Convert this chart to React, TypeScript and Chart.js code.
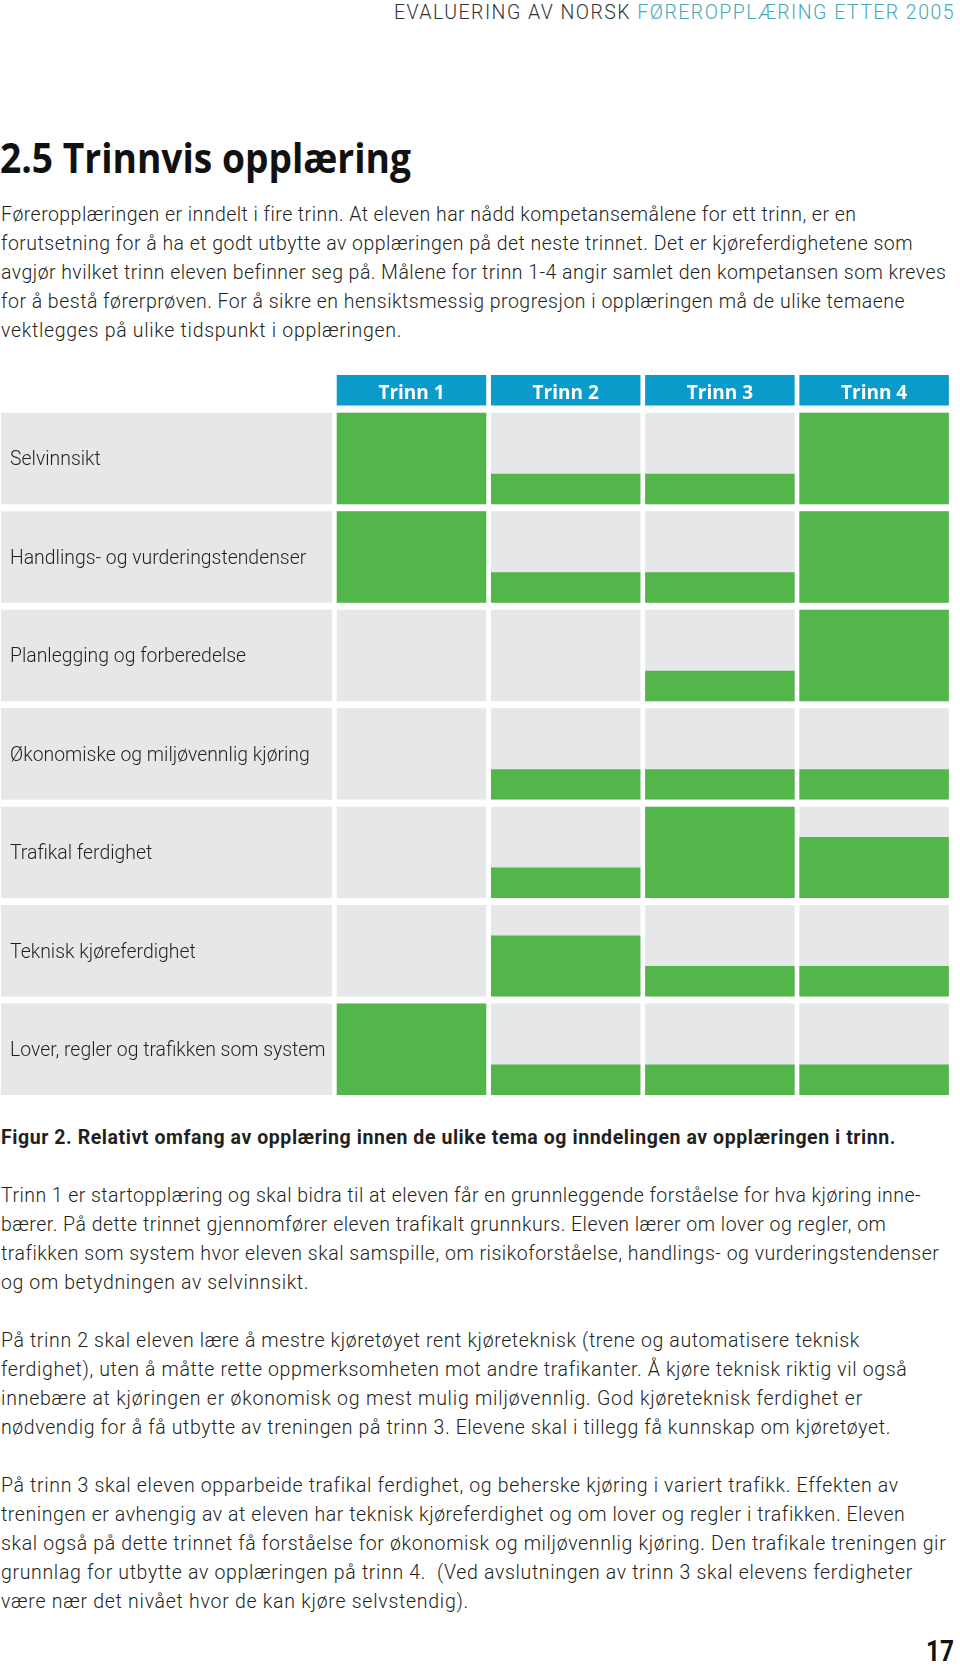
import React, { useEffect, useLayoutEffect, useRef } from 'react';
import { Chart, registerables } from 'chart.js';

Chart.register(...registerables);

// ---------- chart data ----------
const categories = [
  'Selvinnsikt',
  'Handlings- og vurderingstendenser',
  'Planlegging og forberedelse',
  'Økonomiske og miljøvennlig kjøring',
  'Trafikal ferdighet',
  'Teknisk kjøreferdighet',
  'Lover, regler og trafikken som system',
];
const trinnLabels = ['Trinn 1', 'Trinn 2', 'Trinn 3', 'Trinn 4'];
// relative extent of training per theme, in thirds of a full cell
const trinn1 = [3, 3, 0, 0, 0, 0, 3];
const trinn2 = [1, 1, 0, 1, 1, 2, 1];
const trinn3 = [1, 1, 1, 1, 3, 1, 1];
const trinn4 = [3, 3, 3, 1, 2, 1, 1];
const fullCell = 3;

// ---------- page text ----------
const headerDark = 'EVALUERING AV NORSK ';
const headerTeal = 'FØREROPPLÆRING ETTER 2005';
const titleText = '2.5 Trinnvis opplæring';
const para1 = [
  'Føreropplæringen er inndelt i fire trinn. At eleven har nådd kompetansemålene for ett trinn, er en',
  'forutsetning for å ha et godt utbytte av opplæringen på det neste trinnet. Det er kjøreferdighetene som',
  'avgjør hvilket trinn eleven befinner seg på. Målene for trinn 1-4 angir samlet den kompetansen som kreves',
  'for å bestå førerprøven. For å sikre en hensiktsmessig progresjon i opplæringen må de ulike temaene',
  'vektlegges på ulike tidspunkt i opplæringen.',
];
const captionText = 'Figur 2. Relativt omfang av opplæring innen de ulike tema og inndelingen av opplæringen i trinn.';
const para2 = [
  'Trinn 1 er startopplæring og skal bidra til at eleven får en grunnleggende forståelse for hva kjøring inne-',
  'bærer. På dette trinnet gjennomfører eleven trafikalt grunnkurs. Eleven lærer om lover og regler, om',
  'trafikken som system hvor eleven skal samspille, om risikoforståelse, handlings- og vurderingstendenser',
  'og om betydningen av selvinnsikt.',
];
const para3 = [
  'På trinn 2 skal eleven lære å mestre kjøretøyet rent kjøreteknisk (trene og automatisere teknisk',
  'ferdighet), uten å måtte rette oppmerksomheten mot andre trafikanter. Å kjøre teknisk riktig vil også',
  'innebære at kjøringen er økonomisk og mest mulig miljøvennlig. God kjøreteknisk ferdighet er',
  'nødvendig for å få utbytte av treningen på trinn 3. Elevene skal i tillegg få kunnskap om kjøretøyet.',
];
const para4 = [
  'På trinn 3 skal eleven opparbeide trafikal ferdighet, og beherske kjøring i variert trafikk. Effekten av',
  'treningen er avhengig av at eleven har teknisk kjøreferdighet og om lover og regler i trafikken. Eleven',
  'skal også på dette trinnet få forståelse for økonomisk og miljøvennlig kjøring. Den trafikale treningen gir',
  'grunnlag for utbytte av opplæringen på trinn 4.  (Ved avslutningen av trinn 3 skal elevens ferdigheter',
  'være nær det nivået hvor de kan kjøre selvstendig).',
];
const pageNumber = '17';

// ---------- layout / style ----------
const W1 = [855, 912, 945, 904, 401];
const W2 = [920, 885, 938, 308];
const W3 = [859, 906, 862, 890];
const W4 = [897, 904, 945, 912, 468];

const GREEN = '#52b64a';
const GREY = '#e6e7e8';
const BLUE = '#0b9bca';
const TEXT = '#231f20';
const TEAL = '#45a9b7';
const BODY_FONT = 'Roboto, "Open Sans", sans-serif';
const BODY_SIZE = 19.5;
const LINE_H = 29.1;

const ROW_GAP = 0.23;
const HEADER_GAP = 0.24;
const HEADER_H = 1.0;
const BAR_RATIO = 0.9695;
const Y_AXIS_W = 324.4;
const LABEL_COL_LEFT = 1;

const nRows = categories.length;
const rowBase = (i: number) => (nRows - 1 - i) * (fullCell + ROW_GAP);
const headerBase = rowBase(0) + fullCell + HEADER_GAP;
const YMAX = headerBase + HEADER_H;

function FitLine({ width, len, style, mode = 'space', children }: { width: number; len: number; style?: React.CSSProperties; mode?: 'space' | 'scale'; children: React.ReactNode }) {
  const ref = useRef<HTMLDivElement>(null);
  useLayoutEffect(() => {
    const el = ref.current;
    if (!el) return;
    el.style.letterSpacing = '0px';
    el.style.transform = 'none';
    const w = el.getBoundingClientRect().width;
    if (mode === 'scale') {
      el.style.transformOrigin = 'left center';
      el.style.transform = `scaleX(${width / w})`;
    } else {
      el.style.letterSpacing = (width - w) / len + 'px';
    }
  }, [width, len, mode]);
  return (
    <div style={{ height: style?.lineHeight ?? LINE_H }}>
      <div ref={ref} style={{ display: 'inline-block', whiteSpace: 'pre', ...style }}>
        {children}
      </div>
    </div>
  );
}

function Para({ lines, widths, top, weight = 300 }: { lines: string[]; widths: number[]; top: number; weight?: number }) {
  return (
    <div style={{ position: 'absolute', left: 1, top, fontFamily: BODY_FONT, fontSize: BODY_SIZE, fontWeight: weight, color: TEXT }}>
      {lines.map((l, i) => (
        <FitLine key={i} width={widths[i]} len={l.length} style={{ lineHeight: LINE_H + 'px' }}>
          {l}
        </FitLine>
      ))}
    </div>
  );
}

function GridChart() {
  const canvasRef = useRef<HTMLCanvasElement>(null);
  useEffect(() => {
    const series = [trinn1, trinn2, trinn3, trinn4];
    const greenData: any[] = [];
    const greyData: any[] = [];
    categories.forEach((_, i) => {
      series.forEach((vals, j) => {
        greyData.push({ x: trinnLabels[j], y: [rowBase(i), rowBase(i) + fullCell] });
        if (vals[i] > 0) greenData.push({ x: trinnLabels[j], y: [rowBase(i), rowBase(i) + vals[i]] });
      });
    });
    const headerData = trinnLabels.map((t) => ({ x: t, y: [headerBase, YMAX] }));

    const decor = {
      id: 'decor',
      beforeDraw(chart: any) {
        const { ctx, chartArea, scales } = chart;
        const y = scales.y;
        const catW = chartArea.width / trinnLabels.length;
        const half = (catW * (1 - BAR_RATIO)) / 2;
        ctx.save();
        ctx.fillStyle = GREY;
        categories.forEach((_, i) => {
          const top = y.getPixelForValue(rowBase(i) + fullCell);
          const bot = y.getPixelForValue(rowBase(i));
          ctx.fillRect(LABEL_COL_LEFT, top, chartArea.left - half - LABEL_COL_LEFT, bot - top);
        });
        ctx.restore();
      },
      afterDatasetsDraw(chart: any) {
        const { ctx } = chart;
        const meta = chart.getDatasetMeta(2);
        ctx.save();
        ctx.fillStyle = '#ffffff';
        ctx.font = '700 19px "Open Sans", sans-serif';
        ctx.textAlign = 'center';
        ctx.textBaseline = 'alphabetic';
        meta.data.forEach((el: any, j: number) => {
          const p = el.getProps(['x', 'y', 'base'], true);
          const bottom = Math.max(p.y, p.base);
          ctx.fillText(trinnLabels[j], p.x, bottom - 6);
        });
        ctx.restore();
      },
    };

    const chart = new Chart(canvasRef.current as HTMLCanvasElement, {
      type: 'bar',
      data: {
        labels: trinnLabels,
        datasets: [
          { label: 'omfang', data: greenData as any, backgroundColor: GREEN, grouped: false, borderWidth: 0 },
          { label: 'bakgrunn', data: greyData as any, backgroundColor: GREY, grouped: false, borderWidth: 0 },
          { label: 'trinn', data: headerData as any, backgroundColor: BLUE, grouped: false, borderWidth: 0 },
        ],
      },
      options: {
        animation: false,
        responsive: false,
        devicePixelRatio: 1,
        layout: { padding: { left: 10, right: 8.8, top: 5, bottom: 10 } },
        datasets: { bar: { categoryPercentage: 1, barPercentage: BAR_RATIO } },
        plugins: { legend: { display: false }, tooltip: { enabled: false } },
        scales: {
          x: { type: 'category', display: false },
          y: {
            type: 'linear',
            min: 0,
            max: YMAX,
            position: 'left',
            grid: { display: false },
            border: { display: false },
            afterBuildTicks: (s: any) => {
              s.ticks = categories.map((_, i) => ({ value: rowBase(i) + fullCell / 2 }));
            },
            afterFit: (s: any) => {
              s.width = Y_AXIS_W;
              s.paddingTop = 0;
              s.paddingBottom = 0;
            },
            ticks: {
              autoSkip: false,
              crossAlign: 'far',
              padding: 0,
              labelOffset: 2,
              color: TEXT,
              font: { family: BODY_FONT, size: 19.4, weight: '300' as any },
              callback: (_v: any, i: number) => categories[i],
            },
          },
        },
      },
      plugins: [decor],
    });
    return () => chart.destroy();
  }, []);
  return <canvas ref={canvasRef} width={960} height={735} style={{ position: 'absolute', left: 0, top: 370, width: 960, height: 735 }} />;
}

export default function App() {
  return (
    <div style={{ position: 'absolute', left: 0, top: 0, width: 960, height: 1666, overflow: 'hidden', background: '#fff' }}>
      <div style={{ position: 'absolute', left: 394, top: 0, fontFamily: BODY_FONT, fontWeight: 300, fontSize: 19.5 }}>
        <FitLine width={561} len={headerDark.length + headerTeal.length} style={{ lineHeight: '26px' }}>
          <span style={{ color: '#333333' }}>{headerDark}</span>
          <span style={{ color: TEAL }}>{headerTeal}</span>
        </FitLine>
      </div>
      <div style={{ position: 'absolute', left: 0, top: 128, fontFamily: '"Open Sans", sans-serif', fontWeight: 700, fontSize: 42, color: '#111' }}>
        <FitLine width={411} len={titleText.length} mode="scale" style={{ lineHeight: '50px' }}>
          {titleText}
        </FitLine>
      </div>
      <Para lines={para1} widths={W1} top={200} />
      <GridChart />
      <Para lines={[captionText]} widths={[895]} top={1123} weight={700} />
      <Para lines={para2} widths={W2} top={1181} />
      <Para lines={para3} widths={W3} top={1326} />
      <Para lines={para4} widths={W4} top={1471} />
      <div style={{ position: 'absolute', left: 926, top: 1633, fontFamily: BODY_FONT, fontWeight: 700, fontSize: 30, color: '#111' }}>
        <FitLine width={28} len={pageNumber.length} mode="scale" style={{ lineHeight: '34px' }}>
          {pageNumber}
        </FitLine>
      </div>
    </div>
  );
}
